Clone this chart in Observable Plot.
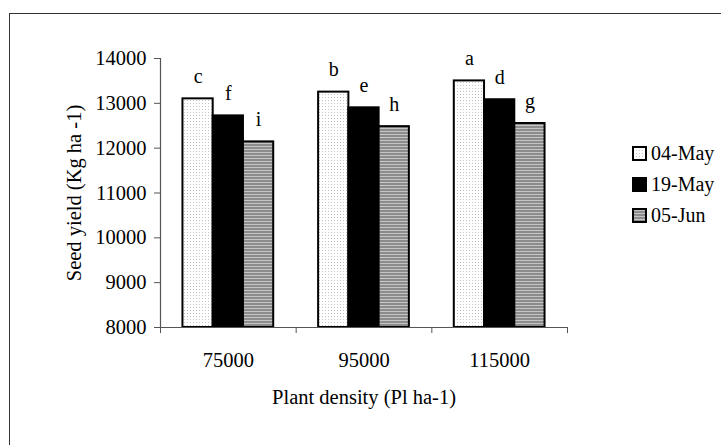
<!DOCTYPE html>
<html><head><meta charset="utf-8">
<script src="https://cdn.jsdelivr.net/npm/d3@7"></script>
<script src="https://cdn.jsdelivr.net/npm/@observablehq/plot@0.6"></script>
<style>
html,body{margin:0;padding:0;background:#fff;overflow:hidden;}
#wrap{position:relative;width:721px;height:445px;font-family:"Liberation Serif","Times New Roman",serif;}
#frame{position:absolute;left:9px;top:13px;width:800px;height:500px;border-left:1.5px solid #333;border-top:1.5px solid #333;}
#chart{position:absolute;left:0;top:0;}
#legend{position:absolute;left:632px;top:138px;font-size:20px;color:#000;}
.row{display:flex;align-items:center;height:31px;}
.row svg{margin-right:4px;}
</style></head>
<body>
<div id="wrap"><div id="frame"></div><div id="chart"></div><div id="legend"></div></div>
<script>
const densities = ["75000", "95000", "115000"];
const series = ["04-May", "19-May", "05-Jun"];
const yields04May = [13100, 13250, 13500];
const yields19May = [12720, 12900, 13080];
const yields05Jun = [12140, 12480, 12550];
const letters04May = ["c", "b", "a"];
const letters19May = ["f", "e", "d"];
const letters05Jun = ["i", "h", "g"];
const yTicks = [8000, 9000, 10000, 11000, 12000, 13000, 14000];

const fills = ["url(#pDots)", "#000", "url(#pStripes)"];
const allYields = [yields04May, yields19May, yields05Jun];
const allLetters = [letters04May, letters19May, letters05Jun];

const barW = 0.223; // fraction of a category band per bar
const data = [];
densities.forEach((d, gi) => {
  series.forEach((s, si) => {
    const x1 = gi + 0.5 + (si - 1.5) * barW;
    data.push({density: d, series: s, value: allYields[si][gi], letter: allLetters[si][gi], x1, x2: x1 + barW, xm: x1 + barW / 2});
  });
});

const font = "'Liberation Serif', 'Times New Roman', serif";
const plot = Plot.plot({
  width: 721, height: 445,
  marginLeft: 160, marginRight: 154, marginTop: 58, marginBottom: 118,
  style: {fontFamily: font, fontSize: "20px", color: "#000", background: "transparent"},
  x: {domain: [0, 3]},
  y: {domain: [8000, 14000]},
  color: {type: "ordinal", domain: series, range: fills},
  marks: [
    Plot.rectY(data, {x1: "x1", x2: "x2", y1: 8000, y2: "value", fill: "series", stroke: "#000", strokeWidth: 2}),
    Plot.text(data, {x: "xm", y: "value", text: "letter", lineAnchor: "bottom", dy: -16, fontSize: 20, fontFamily: font}),
    Plot.ruleY([8000], {x1: 0, x2: 3, stroke: "#555", strokeWidth: 1.2}),
    Plot.ruleX([0], {y1: 8000, y2: 14000, stroke: "#555", strokeWidth: 1.2}),
    Plot.axisY({ticks: yTicks, tickFormat: d => String(d), tickSize: 6, tickPadding: 8, stroke: "#555", label: "Seed yield (Kg ha -1)", labelAnchor: "center", labelArrow: "none", labelOffset: 94, fontSize: 20.5, fontFamily: font}),
    Plot.axisX({ticks: [0, 1, 2, 3], tickFormat: () => "", tickSize: 6, stroke: "#555", label: null}),
    Plot.axisX({ticks: [0.5, 1.5, 2.5], tickFormat: v => densities[Math.floor(v)], tickSize: 0, tickPadding: 25, label: "Plant density (Pl ha-1)", labelAnchor: "center", labelArrow: "none", labelOffset: 76, fontSize: 20.5, fontFamily: font})
  ]
});

const defs = `<defs>
<pattern id="pDots" width="3" height="3" patternUnits="userSpaceOnUse"><rect width="3" height="3" fill="#fff"/><rect x="1" y="1" width="1" height="1" fill="#c4c4c4"/></pattern>
<pattern id="pStripes" width="3" height="3" patternUnits="userSpaceOnUse"><rect width="3" height="3" fill="#8c8c8c"/><rect y="2" width="3" height="1" fill="#c4c4c4"/></pattern>
</defs>`;
plot.insertAdjacentHTML("afterbegin", defs);
document.getElementById("chart").appendChild(plot);

const legend = document.getElementById("legend");
series.forEach((s, i) => {
  const row = document.createElement("div");
  row.className = "row";
  row.innerHTML = `<svg width="15" height="15"><defs>
<pattern id="lDots${i}" width="3" height="3" patternUnits="userSpaceOnUse"><rect width="3" height="3" fill="#fff"/><rect x="1" y="1" width="1" height="1" fill="#c4c4c4"/></pattern>
<pattern id="lStr${i}" width="3" height="3" patternUnits="userSpaceOnUse"><rect width="3" height="3" fill="#8c8c8c"/><rect y="2" width="3" height="1" fill="#c4c4c4"/></pattern></defs>
<rect x="1" y="1" width="13" height="13" fill="${i === 0 ? `url(#lDots${i})` : i === 1 ? "#000" : `url(#lStr${i})`}" stroke="#000" stroke-width="2"/></svg><span>${s}</span>`;
  legend.appendChild(row);
});
</script>
</body></html>
